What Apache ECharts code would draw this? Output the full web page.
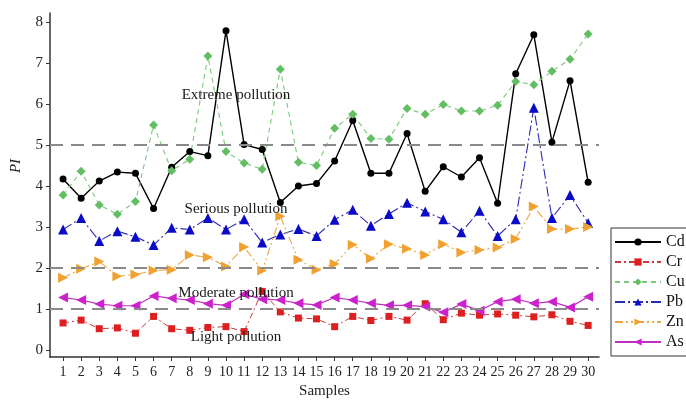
<!DOCTYPE html>
<html>
<head>
<meta charset="utf-8">
<script src="https://cdn.jsdelivr.net/npm/echarts@6/dist/echarts.min.js"></script>
<style>
html,body{margin:0;padding:0;background:#fff;}
#chart{width:686px;height:404px;}
</style>
</head>
<body>
<div id="chart"></div>
<script>
const samples = [1,2,3,4,5,6,7,8,9,10,11,12,13,14,15,16,17,18,19,20,21,22,23,24,25,26,27,28,29,30];
const cd = [4.17,3.70,4.12,4.34,4.31,3.45,4.46,4.84,4.74,7.79,5.01,4.89,3.60,4.00,4.06,4.61,5.60,4.31,4.31,5.28,3.87,4.47,4.22,4.69,3.58,6.74,7.69,5.07,6.57,4.09];
const cr = [0.66,0.73,0.52,0.54,0.41,0.82,0.52,0.48,0.55,0.57,0.45,1.43,0.93,0.78,0.76,0.57,0.82,0.72,0.82,0.73,1.13,0.74,0.90,0.85,0.88,0.85,0.81,0.86,0.70,0.60];
const cu = [3.78,4.36,3.54,3.31,3.62,5.49,4.37,4.65,7.17,4.84,4.56,4.41,6.85,4.58,4.50,5.41,5.75,5.16,5.14,5.89,5.75,5.99,5.83,5.83,5.97,6.55,6.47,6.80,7.09,7.71];
const pb = [2.94,3.22,2.66,2.90,2.76,2.56,2.98,2.94,3.22,2.94,3.19,2.62,2.82,2.95,2.78,3.18,3.42,3.03,3.32,3.59,3.38,3.19,2.87,3.40,2.78,3.19,5.91,3.22,3.78,3.10];
const zn = [1.76,1.98,2.16,1.80,1.84,1.94,1.96,2.32,2.26,2.04,2.51,1.94,3.26,2.20,1.96,2.10,2.57,2.23,2.58,2.47,2.32,2.58,2.38,2.44,2.50,2.71,3.50,2.95,2.95,3.00];
const as = [1.28,1.22,1.12,1.08,1.08,1.32,1.26,1.22,1.13,1.09,1.36,1.24,1.22,1.14,1.10,1.28,1.22,1.14,1.09,1.09,1.06,0.92,1.12,0.96,1.18,1.24,1.14,1.18,1.04,1.30];
const yTicks = [0,1,2,3,4,5,6,7,8];
const thresholds = [1,2,5];
const zoneLabels = ['Extreme pollution','Serious pollution','Moderate pollution','Light pollution'];

const serif = '"Liberation Serif","DejaVu Serif",serif';
const pairs = arr => samples.map((s,i) => [s, arr[i]]);

const chart = echarts.init(document.getElementById('chart'), null, {renderer:'canvas'});

function mk(name, data, color, lineColor, symbol, size, dash, width) {
  return {
    name: name, type: 'line', data: pairs(data),
    symbol: symbol, symbolSize: size, showSymbol: true,
    itemStyle: {color: color},
    lineStyle: {color: lineColor, width: width, type: dash},
    emphasis: {disabled: true},
    animation: false
  };
}

const series = [
  mk('Cd', cd, '#000000', '#000000', 'circle', 7, 'solid', 1.4),
  mk('Cr', cr, '#dd1f1f', '#c83a3a', 'rect', 7, [6,3,2,3], 1),
  mk('Cu', cu, '#62be62', '#7cc77c', 'diamond', 9, [5,4], 1.1),
  mk('Pb', pb, '#0a0ac8', '#2a2ab0', 'triangle', 10, [10,3,2,3], 1.1),
  mk('Zn', zn, '#f0a130', '#eaa640', 'path://M0,0 L10,5 L0,10 Z', 10, [8,3,2,3,2,3], 1.1),
  mk('As', as, '#cc22cc', '#c030c0', 'path://M10,0 L0,5 L10,10 Z', 10, 'solid', 1.2)
];
series[0].markLine = {
  silent: true, symbol: 'none', animation: false,
  label: {show: false},
  lineStyle: {color: '#8a8a8a', type: [13,8], width: 2},
  data: thresholds.map(v => ({yAxis: v}))
};

const labelY = [95, 209, 293, 337];
const graphics = zoneLabels.map((t,i) => ({
  type: 'text', x: 236, y: labelY[i], z: 100,
  style: {text: t, font: '15px ' + serif, fill: '#1a1a1a', textAlign: 'center', textVerticalAlign: 'middle'}
}));
graphics.push({
  type: 'text', x: 16, y: 166, rotation: Math.PI/2,
  style: {text: 'PI', font: 'italic 15px ' + serif, fill: '#222', textAlign: 'center', textVerticalAlign: 'middle'}
});

chart.setOption({
  backgroundColor: '#ffffff',
  animation: false,
  grid: {left: 50, right: 87, top: 13, bottom: 41, containLabel: false},
  xAxis: {
    type: 'value', min: 0.28, max: 30.6,
    name: 'Samples', nameLocation: 'middle', nameGap: 27,
    nameTextStyle: {fontFamily: serif, fontSize: 15, color: '#222'},
    axisLine: {onZero: false, lineStyle: {color: '#333', width: 1.5}},
    axisTick: {show: true, length: 4, customValues: samples, lineStyle: {color: '#333'}},
    axisLabel: {customValues: samples, margin: 8, fontFamily: serif, fontSize: 14, color: '#222'},
    splitLine: {show: false}
  },
  yAxis: {
    type: 'value', min: -0.17, max: 8.22,
    axisLine: {show: true, onZero: false, lineStyle: {color: '#333', width: 1.5}},
    axisTick: {show: true, length: 4, customValues: yTicks, lineStyle: {color: '#333'}},
    axisLabel: {customValues: yTicks, margin: 7, fontFamily: serif, fontSize: 15, color: '#222'},
    splitLine: {show: false}
  },
  legend: {
    orient: 'vertical', left: 611, top: 228,
    itemWidth: 46, itemHeight: 9, itemGap: 4,
    borderColor: '#333', borderWidth: 1, borderRadius: 0,
    padding: [6, 12, 6, 3],
    textStyle: {fontFamily: serif, fontSize: 16, lineHeight: 14, color: '#111'},
    data: ['Cd','Cr','Cu','Pb','Zn','As']
  },
  graphic: graphics,
  series: series
});
</script>
</body>
</html>
